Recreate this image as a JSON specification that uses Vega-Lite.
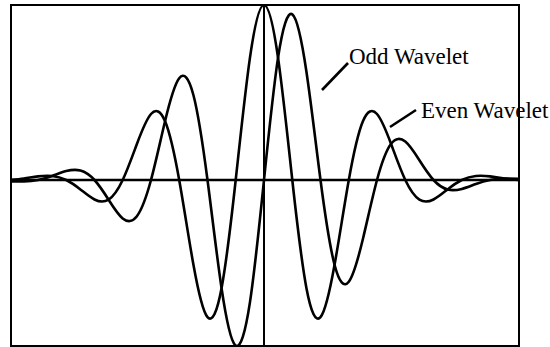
{
  "$schema": "https://vega.github.io/schema/vega-lite/v6.json",
  "width": 508,
  "height": 341,
  "autosize": {"type": "none"},
  "padding": {"left": 11, "top": 5, "right": 31, "bottom": 1},
  "background": "white",
  "config": {
    "view": {"stroke": "black", "strokeWidth": 2},
    "axis": {"disable": true}
  },
  "datasets": {
    "curves": [
      {"wave": "even", "x": -254.3, "y": 0},
      {"wave": "even", "x": -240.1, "y": 1.5},
      {"wave": "even", "x": -226, "y": 3.6},
      {"wave": "even", "x": -211.9, "y": 4.0},
      {"wave": "even", "x": -197.8, "y": 0},
      {"wave": "even", "x": -183.6, "y": -9.4},
      {"wave": "even", "x": -169.5, "y": -19.5},
      {"wave": "even", "x": -155.4, "y": -19.6},
      {"wave": "even", "x": -141.3, "y": 0},
      {"wave": "even", "x": -127.1, "y": 36.0},
      {"wave": "even", "x": -113, "y": 66.0},
      {"wave": "even", "x": -98.9, "y": 58.7},
      {"wave": "even", "x": -84.8, "y": 0},
      {"wave": "even", "x": -70.6, "y": -84.6},
      {"wave": "even", "x": -56.5, "y": -137.2},
      {"wave": "even", "x": -42.4, "y": -107.9},
      {"wave": "even", "x": -28.3, "y": 0},
      {"wave": "even", "x": -14.1, "y": 121.9},
      {"wave": "even", "x": 0, "y": 175},
      {"wave": "even", "x": 14.1, "y": 121.9},
      {"wave": "even", "x": 28.3, "y": 0},
      {"wave": "even", "x": 42.4, "y": -107.9},
      {"wave": "even", "x": 56.5, "y": -137.2},
      {"wave": "even", "x": 70.6, "y": -84.6},
      {"wave": "even", "x": 84.8, "y": 0},
      {"wave": "even", "x": 98.9, "y": 58.7},
      {"wave": "even", "x": 113, "y": 66.0},
      {"wave": "even", "x": 127.1, "y": 36.0},
      {"wave": "even", "x": 141.3, "y": 0},
      {"wave": "even", "x": 155.4, "y": -19.6},
      {"wave": "even", "x": 169.5, "y": -19.5},
      {"wave": "even", "x": 183.6, "y": -9.4},
      {"wave": "even", "x": 197.8, "y": 0},
      {"wave": "even", "x": 211.9, "y": 4.0},
      {"wave": "even", "x": 226, "y": 3.6},
      {"wave": "even", "x": 240.1, "y": 1.5},
      {"wave": "even", "x": 254.3, "y": 0},
      {"wave": "odd", "x": -254.3, "y": -1.3},
      {"wave": "odd", "x": -240.1, "y": -1.5},
      {"wave": "odd", "x": -226, "y": 0},
      {"wave": "odd", "x": -211.9, "y": 4.0},
      {"wave": "odd", "x": -197.8, "y": 8.9},
      {"wave": "odd", "x": -183.6, "y": 9.5},
      {"wave": "odd", "x": -169.5, "y": 0},
      {"wave": "odd", "x": -155.4, "y": -19.7},
      {"wave": "odd", "x": -141.3, "y": -38.4},
      {"wave": "odd", "x": -127.1, "y": -36.2},
      {"wave": "odd", "x": -113, "y": 0},
      {"wave": "odd", "x": -98.9, "y": 59.0},
      {"wave": "odd", "x": -84.8, "y": 101.7},
      {"wave": "odd", "x": -70.6, "y": 85.0},
      {"wave": "odd", "x": -56.5, "y": 0},
      {"wave": "odd", "x": -42.4, "y": -108.5},
      {"wave": "odd", "x": -28.3, "y": -165.6},
      {"wave": "odd", "x": -14.1, "y": -122.6},
      {"wave": "odd", "x": 0, "y": 0},
      {"wave": "odd", "x": 14.1, "y": 122.6},
      {"wave": "odd", "x": 28.3, "y": 165.6},
      {"wave": "odd", "x": 42.4, "y": 108.5},
      {"wave": "odd", "x": 56.5, "y": 0},
      {"wave": "odd", "x": 70.6, "y": -85.0},
      {"wave": "odd", "x": 84.8, "y": -101.7},
      {"wave": "odd", "x": 98.9, "y": -59.0},
      {"wave": "odd", "x": 113, "y": 0},
      {"wave": "odd", "x": 127.1, "y": 36.2},
      {"wave": "odd", "x": 141.3, "y": 38.4},
      {"wave": "odd", "x": 155.4, "y": 19.7},
      {"wave": "odd", "x": 169.5, "y": 0},
      {"wave": "odd", "x": 183.6, "y": -9.5},
      {"wave": "odd", "x": 197.8, "y": -8.9},
      {"wave": "odd", "x": 211.9, "y": -4.0},
      {"wave": "odd", "x": 226, "y": 0},
      {"wave": "odd", "x": 240.1, "y": 1.5},
      {"wave": "odd", "x": 254.3, "y": 1.3}
    ],
    "leaders": [
      {"id": "odd", "x": 58, "y": 90},
      {"id": "odd", "x": 84, "y": 117},
      {"id": "even", "x": 126, "y": 53},
      {"id": "even", "x": 152, "y": 70}
    ],
    "labels": [
      {"label": "Odd Wavelet", "x": 85, "y": 116},
      {"label": "Even Wavelet", "x": 157, "y": 62}
    ]
  },
  "layer": [
    {
      "data": {"values": [{"y": 0}]},
      "mark": {"type": "rule", "color": "black", "strokeWidth": 2.5},
      "encoding": {
        "y": {"field": "y", "type": "quantitative", "scale": {"domain": [-166, 175], "nice": false, "zero": false}}
      }
    },
    {
      "data": {"values": [{"x": 0}]},
      "mark": {"type": "rule", "color": "black", "strokeWidth": 2},
      "encoding": {
        "x": {"field": "x", "type": "quantitative", "scale": {"domain": [-253, 255], "nice": false, "zero": false}}
      }
    },
    {
      "data": {"name": "curves"},
      "mark": {"type": "line", "color": "black", "strokeWidth": 2.6, "interpolate": "natural", "clip": true},
      "encoding": {
        "x": {"field": "x", "type": "quantitative", "scale": {"domain": [-253, 255], "nice": false, "zero": false}},
        "y": {"field": "y", "type": "quantitative", "scale": {"domain": [-166, 175], "nice": false, "zero": false}},
        "detail": {"field": "wave", "type": "nominal"}
      }
    },
    {
      "data": {"name": "leaders"},
      "mark": {"type": "line", "color": "black", "strokeWidth": 2.6},
      "encoding": {
        "x": {"field": "x", "type": "quantitative", "scale": {"domain": [-253, 255], "nice": false, "zero": false}},
        "y": {"field": "y", "type": "quantitative", "scale": {"domain": [-166, 175], "nice": false, "zero": false}},
        "detail": {"field": "id", "type": "nominal"}
      }
    },
    {
      "data": {"name": "labels"},
      "mark": {"type": "text", "align": "left", "baseline": "alphabetic", "font": "Liberation Serif", "fontSize": 23, "color": "black"},
      "encoding": {
        "x": {"field": "x", "type": "quantitative", "scale": {"domain": [-253, 255], "nice": false, "zero": false}},
        "y": {"field": "y", "type": "quantitative", "scale": {"domain": [-166, 175], "nice": false, "zero": false}},
        "text": {"field": "label", "type": "nominal"}
      }
    }
  ]
}
